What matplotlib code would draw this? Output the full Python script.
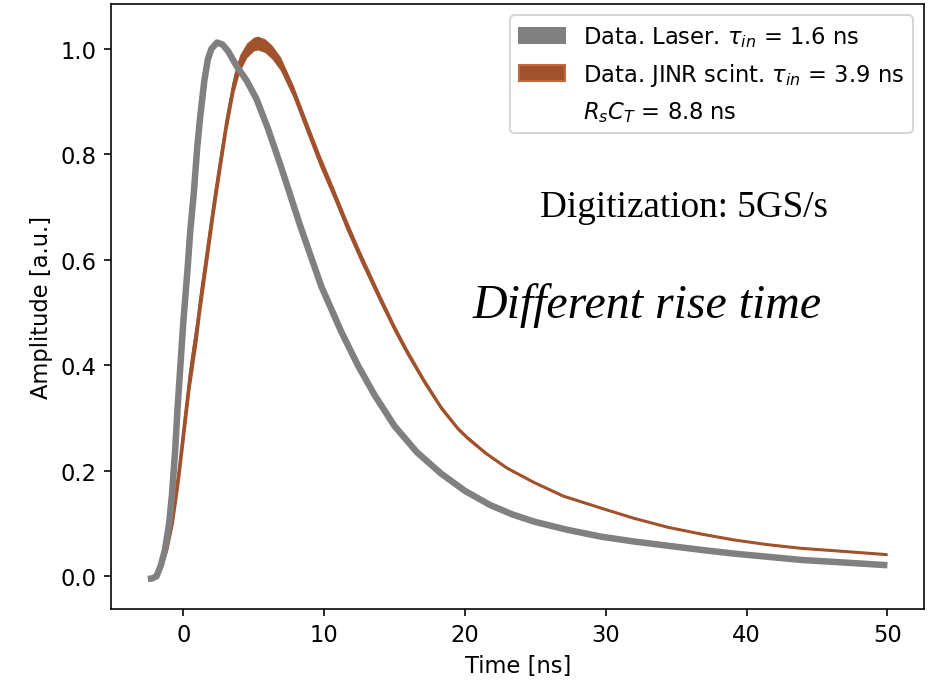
import matplotlib
matplotlib.use("Agg")
import matplotlib.pyplot as plt
from matplotlib.patches import Patch
import numpy as np

# ---- data ----
laser_t = [-2.5, -2.2, -1.9, -1.6, -1.3, -1.0, -0.8, -0.57, -0.4, -0.2, 0.0, 0.3, 0.5, 0.73,
           1.0, 1.2, 1.5, 1.75, 2.0, 2.4, 2.8, 3.2, 3.8, 4.5, 5.2, 6.0, 6.9, 8.3, 9.8,
           11.2, 12.4, 13.6, 15.0, 16.6, 18.3, 20.0, 21.8, 23.4, 25.0, 27.3, 29.7,
           32.0, 34.4, 36.8, 39.1, 41.5, 43.9, 47.0, 50.0]
laser_a = [-0.005, -0.004, 0.0, 0.02, 0.05, 0.10, 0.155, 0.24, 0.32, 0.40, 0.48, 0.58, 0.655, 0.72,
           0.815, 0.87, 0.94, 0.98, 1.0, 1.012, 1.008, 0.995, 0.967, 0.94, 0.905, 0.85, 0.78, 0.665, 0.55,
           0.465, 0.40, 0.343, 0.285, 0.235, 0.195, 0.162, 0.135, 0.117, 0.103, 0.088, 0.075,
           0.066, 0.058, 0.050, 0.043, 0.037, 0.031, 0.026, 0.021]

jinr_t = [-2.5, -2.0, -1.5, -1.1, -0.7, -0.3, 0.0, 0.5, 1.0, 1.2, 1.7, 2.2, 2.6, 3.1, 3.6,
          4.0, 4.5, 5.0, 5.3, 5.8, 6.3, 6.9, 7.8, 8.8, 9.7, 10.7, 11.6, 12.6, 14.0, 15.0,
          15.9, 17.1, 18.3, 19.5, 20.2, 21.5, 23.0, 24.9, 27.0, 29.7, 32.0, 34.4,
          36.8, 39.1, 41.5, 43.9, 47.0, 50.0]
jinr_a = [-0.005, 0.0, 0.02, 0.06, 0.12, 0.20, 0.27, 0.385, 0.475, 0.52, 0.615, 0.71, 0.78, 0.865, 0.935,
          0.972, 0.997, 1.009, 1.011, 1.006, 0.994, 0.972, 0.92, 0.85, 0.788, 0.725, 0.666, 0.605, 0.525, 0.47,
          0.425, 0.37, 0.32, 0.28, 0.262, 0.233, 0.205, 0.178, 0.152, 0.129, 0.110, 0.093,
          0.080, 0.069, 0.060, 0.053, 0.047, 0.041]
jinr_hw = [0.003, 0.003, 0.004, 0.010, 0.020, 0.025, 0.028, 0.028, 0.028, 0.027, 0.026, 0.024, 0.022, 0.02, 0.018,
           0.016, 0.014, 0.013, 0.013, 0.013, 0.013, 0.013, 0.012, 0.012, 0.012, 0.011, 0.011, 0.010, 0.009, 0.008,
           0.007, 0.006, 0.005, 0.004, 0.004, 0.003, 0.002, 0.002, 0.002, 0.001, 0.001, 0.001,
           0.001, 0.001, 0.001, 0.001, 0.001, 0.001]

labels = [r'Data. Laser. $\tau_{in}$ = 1.6 ns',
          r'Data. JINR scint. $\tau_{in}$ = 3.9 ns',
          r'$R_sC_T$ = 8.8 ns']
gray_c = '#808080'
brown_c = '#a0522d'

plt.rcParams['font.size'] = 11.2

fig = plt.figure(figsize=(6.4, 4.678), dpi=146)
ax = fig.add_axes([111/934, 1-610/683, (924-111)/934, (610-5)/683])

jt = np.array(jinr_t); ja = np.array(jinr_a); jh = np.array(jinr_hw)
ax.fill_between(jt, ja - jh, ja + jh, color=brown_c, lw=0)
ax.plot(jt, ja, color=brown_c, lw=1.5, solid_capstyle='butt', solid_joinstyle='round')
ax.plot(laser_t, laser_a, color=gray_c, lw=3.2, solid_capstyle='butt', solid_joinstyle='round')

ax.set_xlim(-5.125, 52.625)
ax.set_ylim(-0.062, 1.085)
ax.set_xticks([0, 10, 20, 30, 40, 50])
ax.set_yticks([0.0, 0.2, 0.4, 0.6, 0.8, 1.0])
ax.set_xlabel('Time [ns]')
ax.set_ylabel('Amplitude [a.u.]')

handles = [Patch(facecolor=gray_c, edgecolor=gray_c),
           Patch(facecolor=brown_c, edgecolor='#c8683a'),
           Patch(facecolor='none', edgecolor='none')]
ax.legend(handles, labels, loc='upper right')

ax.text(0.528, 0.650, 'Digitization: 5GS/s', transform=ax.transAxes,
        family='Liberation Serif', fontsize=18.3, va='baseline', ha='left')
ax.text(0.445, 0.483, 'Different rise time', transform=ax.transAxes,
        family='Liberation Serif', style='italic', fontsize=23.6, va='baseline', ha='left')

fig.savefig('out.png', dpi=146)
